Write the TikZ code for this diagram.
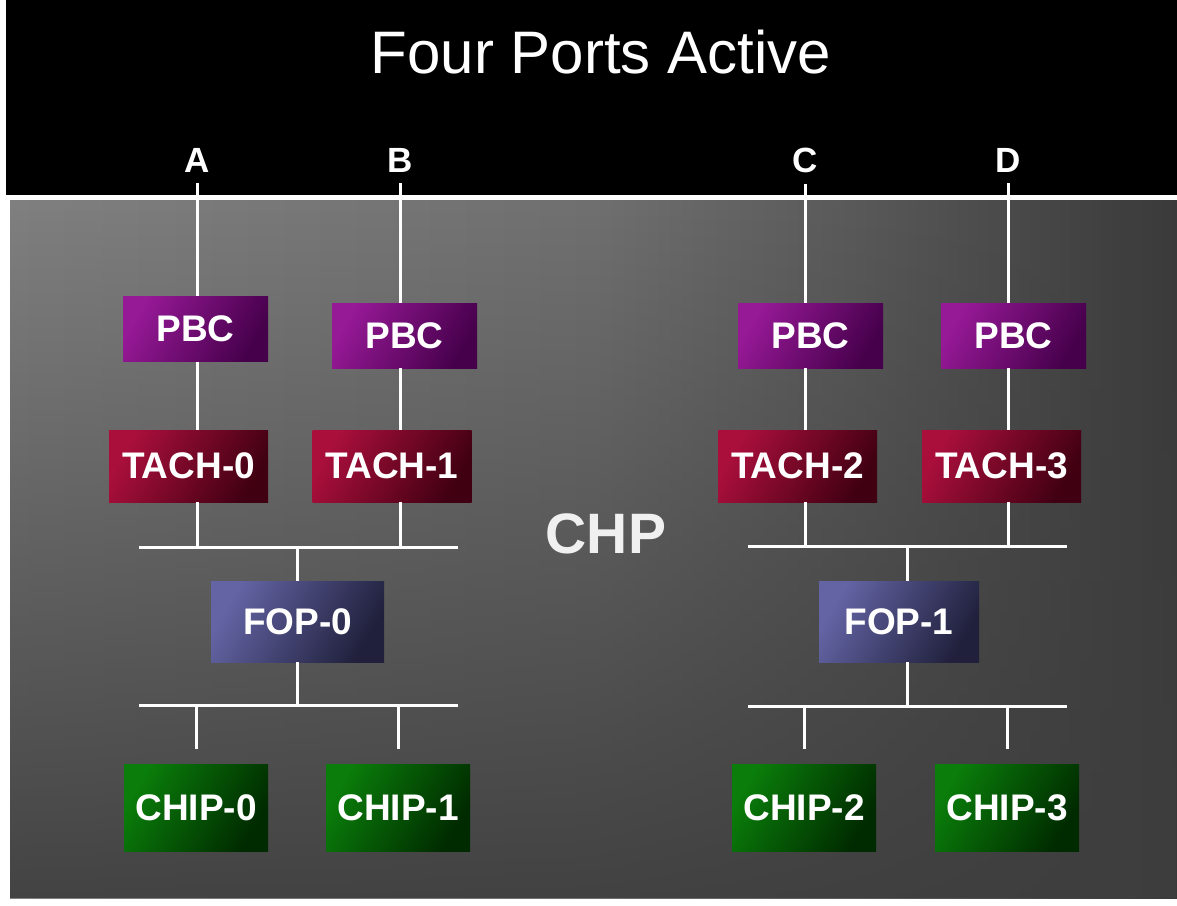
\documentclass[tikz,border=0pt]{standalone}
\usepackage{fontspec}
\setmainfont{Liberation Sans}
\usetikzlibrary{fadings}

\definecolor{chpa}{RGB}{128,128,128}
\definecolor{chpb}{RGB}{112,112,112}
\definecolor{chpc}{RGB}{90,90,90}
\definecolor{chpd}{RGB}{58,58,58}
\definecolor{chpbottom}{RGB}{62,62,62}
\definecolor{pbclight}{RGB}{150,25,150}
\definecolor{pbcdark}{RGB}{70,0,75}
\definecolor{tachlight}{RGB}{170,15,60}
\definecolor{tachdark}{RGB}{65,0,18}
\definecolor{foplight}{RGB}{100,100,165}
\definecolor{fopdark}{RGB}{32,32,60}
\definecolor{chiplight}{RGB}{10,125,10}
\definecolor{chipdark}{RGB}{0,42,0}

\pgfdeclarehorizontalshading{chpback}{100bp}{color(0bp)=(chpa); color(25bp)=(chpa); color(50bp)=(chpb); color(61bp)=(chpc); color(75bp)=(chpd); color(100bp)=(chpd)}
\tikzfading[name=fadedown, top color=transparent!100, middle color=transparent!72, bottom color=transparent!8]

\begin{document}
\begin{tikzpicture}[x=1pt, y=-1pt,
        wire/.style={
            draw=white,
            line width=3pt,
        },
        port/.style={
            text=white,
            anchor=base,
            inner ysep=11pt,
            font=\bfseries\fontsize{35}{35}\selectfont,
        },
        box/.style={
            rectangle,
            inner sep=0pt,
            text=white,
            font=\bfseries\fontsize{37}{37}\selectfont,
        },
        pbc/.style={
            box,
            minimum width=145pt,
            minimum height=65pt,
            left color=pbclight,
            right color=pbcdark,
            shading angle=60,
        },
        tach/.style={
            box,
            minimum width=159pt,
            minimum height=72pt,
            left color=tachlight,
            right color=tachdark,
            shading angle=60,
        },
        fop/.style={
            box,
            minimum width=160pt,
            minimum height=81pt,
            left color=foplight,
            right color=fopdark,
            shading angle=60,
        },
        chip/.style={
            box,
            minimum width=144pt,
            minimum height=87pt,
            left color=chiplight,
            right color=chipdark,
            shading angle=60,
        },
    ]

    \useasboundingbox (0,0) rectangle (1177,905);
    \fill [white] (0,0) rectangle (1177,905);
    \fill [black] (6,0) rectangle (1177,195);
    \shade [shading=chpback] (10,200) rectangle (1177,898);
    \fill [chpbottom, path fading=fadedown] (10,200) rectangle (1177,898);

    \node (title) at (601,73) [anchor=base, text=white, font=\fontsize{60}{60}\selectfont] {Four Ports Active};

    \node (portA) at (197,172) [port] {A};
    \node (portB) at (400,172) [port] {B};
    \node (portC) at (805,172) [port] {C};
    \node (portD) at (1008,172) [port] {D};

    \node (pbcA) at (195.5,329) [pbc] {PBC};
    \node (pbcB) at (404.5,335.5) [pbc] {PBC};
    \node (pbcC) at (810.5,335.5) [pbc] {PBC};
    \node (pbcD) at (1013.5,335.5) [pbc] {PBC};

    \node (tach0) at (188.5,466) [tach] {TACH-0};
    \node (tach1) at (392,466) [tach] {TACH-1};
    \node (tach2) at (797.5,466) [tach] {TACH-2};
    \node (tach3) at (1001.5,466) [tach] {TACH-3};

    \node (chp) at (606,553) [anchor=base, text=white!94!black, font=\bfseries\fontsize{57}{57}\selectfont] {CHP};

    \node (fop0) at (297.5,621.5) [fop, minimum width=173pt] {FOP-0};
    \node (fop1) at (899,621.5) [fop] {FOP-1};

    \node (chip0) at (196,807.5) [chip] {CHIP-0};
    \node (chip1) at (398,807.5) [chip] {CHIP-1};
    \node (chip2) at (804,807.5) [chip] {CHIP-2};
    \node (chip3) at (1007,807.5) [chip] {CHIP-3};

    % buses
    \coordinate (busL) at (139,547);
    \coordinate (busLend) at (458,547);
    \coordinate (busR) at (748,546);
    \coordinate (busRend) at (1067,546);
    \coordinate (lowL) at (139,705);
    \coordinate (lowLend) at (458,705);
    \coordinate (lowR) at (748,706);
    \coordinate (lowRend) at (1067,706);

    \draw [wire] (busL) -- (busLend);
    \draw [wire] (busR) -- (busRend);
    \draw [wire] (lowL) -- (lowLend);
    \draw [wire] (lowR) -- (lowRend);

    \foreach \p/\b/\t/\u in {A/pbcA/tach0/busL, B/pbcB/tach1/busL, C/pbcC/tach2/busR, D/pbcD/tach3/busR} {
        \draw [wire] (port\p) -- (port\p |- \b.north);
        \draw [wire] (port\p |- \b.south) -- (port\p |- \t.north);
        \draw [wire] (port\p |- \t.south) -- (port\p |- \u);
    }

    \draw [wire] (fop0.north |- busL) -- (fop0.north);
    \draw [wire] (fop0.south) -- (fop0.south |- lowL);
    \draw [wire] ([xshift=8pt]fop1.north |- busR) -- ([xshift=8pt]fop1.north);
    \draw [wire] ([xshift=8pt]fop1.south) -- ([xshift=8pt]fop1.south |- lowR);

    \foreach \c/\u in {chip0/lowL, chip1/lowL, chip2/lowR, chip3/lowR} {
        \draw [wire] (\c.north |- \u) -- ([yshift=15pt]\c.north);
    }

\end{tikzpicture}
\end{document}
